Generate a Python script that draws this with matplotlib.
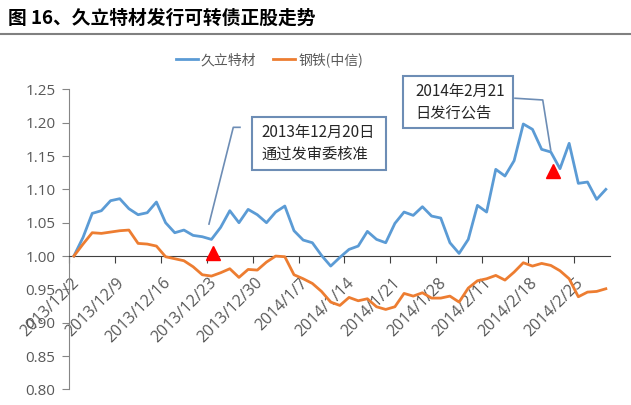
import matplotlib
matplotlib.use("Agg")
import matplotlib.pyplot as plt
import matplotlib.transforms as mtransforms
import numpy as np

plt.rcParams['font.family'] = ['Noto Sans CJK SC', 'DejaVu Sans']

# 交易日序列（2013/12/2 - 2014/2/28），每5个交易日一个标签
tick_labels = ['2013/12/2', '2013/12/9', '2013/12/16', '2013/12/23', '2013/12/30',
               '2014/1/7', '2014/1/14', '2014/1/21', '2014/1/28', '2014/2/11',
               '2014/2/18', '2014/2/25']

jiuli = [1.000, 1.028, 1.064, 1.068, 1.083, 1.086, 1.071, 1.062, 1.065, 1.081,
         1.050, 1.035, 1.039, 1.031, 1.029, 1.025, 1.043, 1.068, 1.050, 1.070,
         1.062, 1.050, 1.066, 1.075, 1.038, 1.024, 1.020, 1.001, 0.985, 0.998,
         1.010, 1.015, 1.037, 1.025, 1.020, 1.049, 1.066, 1.061, 1.074, 1.060,
         1.057, 1.020, 1.004, 1.025, 1.076, 1.066, 1.130, 1.120, 1.143, 1.198,
         1.190, 1.160, 1.156, 1.131, 1.169, 1.109, 1.111, 1.085, 1.100]

steel = [1.000, 1.018, 1.035, 1.034, 1.036, 1.038, 1.039, 1.019, 1.018, 1.015,
         0.999, 0.996, 0.993, 0.984, 0.972, 0.970, 0.975, 0.981, 0.968, 0.980,
         0.979, 0.991, 1.000, 0.999, 0.972, 0.966, 0.959, 0.947, 0.931, 0.926,
         0.938, 0.933, 0.936, 0.924, 0.920, 0.924, 0.944, 0.940, 0.945, 0.937,
         0.937, 0.940, 0.931, 0.952, 0.963, 0.966, 0.971, 0.964, 0.976, 0.990,
         0.985, 0.989, 0.986, 0.978, 0.966, 0.939, 0.946, 0.947, 0.951]

# 事件标记（发审委核准、发行公告）
event_x = [15.2, 52.2]
event_y = [1.004, 1.1275]

blue = '#5B9BD5'
orange = '#ED7D31'
gray = '#595959'
box_edge = '#6D8DB5'

fig = plt.figure(figsize=(6.31, 4.05), dpi=100)
ax = fig.add_axes([0.1098, 0.0383, 0.8576, 0.7412])

x = np.arange(len(jiuli))
ax.plot(x, jiuli, color=blue, lw=2.0, label='久立特材', zorder=3)
ax.plot(x, steel, color=orange, lw=2.0, label='钢铁(中信)', zorder=3)
ax.plot(event_x, event_y, '^', color='#FF0000', ms=10, zorder=4, clip_on=False)

ax.set_xlim(-0.5, len(jiuli) - 0.5)
ax.set_ylim(0.80, 1.25)
ax.set_yticks(np.arange(0.80, 1.2501, 0.05))
ax.set_yticklabels(['%.2f' % v for v in np.arange(0.80, 1.2501, 0.05)])

for s in ['top', 'right']:
    ax.spines[s].set_visible(False)
ax.spines['left'].set_color('#868686')
ax.spines['bottom'].set_color('#404040')
ax.spines['bottom'].set_position(('data', 1.0))

# 类别轴：刻度线在类别边界，标签放在类别中心下方
label_pos = np.arange(0, 5 * len(tick_labels), 5)
ax.set_xticks(label_pos - 0.5)
ax.set_xticklabels([])
ax.tick_params(axis='x', length=5, color='#404040', direction='out')
shift = mtransforms.ScaledTranslation(-3 / 100, -19 / 100, fig.dpi_scale_trans)
for p, lab in zip(label_pos, tick_labels):
    ax.text(p, 1.0, lab, transform=ax.transData + shift, rotation=45,
            ha='right', va='top', rotation_mode='anchor', fontsize=11.5,
            color=gray, family=['Open Sans', 'DejaVu Sans'], zorder=2)

ax.tick_params(axis='y', length=5, color='#868686', pad=5, labelsize=11, labelcolor=gray)
for t in ax.get_yticklabels():
    t.set_family(['Open Sans', 'DejaVu Sans'])

# 注释框与引线
ax.plot([14.73, 17.38, 18.11], [1.048, 1.193, 1.193], color=box_edge, lw=1.2, clip_on=False)
ax.add_patch(plt.Rectangle((19.39, 1.129), 34.03 - 19.39, 1.209 - 1.129, fill=True,
                           facecolor='white', edgecolor=box_edge, lw=1.5, clip_on=False, zorder=5))
ax.text(20.4, 1.169, '2013年12月20日\n通过发审委核准', fontsize=11, color='#262626',
        ha='left', va='center', linespacing=1.35, zorder=6)

ax.plot([48.10, 51.12, 51.99], [1.2366, 1.234, 1.159], color=box_edge, lw=1.2, clip_on=False)
ax.add_patch(plt.Rectangle((35.92, 1.1916), 47.92 - 35.92, 1.27 - 1.1916, fill=True,
                           facecolor='white', edgecolor=box_edge, lw=1.5, clip_on=False, zorder=5))
ax.text(37.2, 1.2308, '2014年2月21\n日发行公告', fontsize=11, color='#262626',
        ha='left', va='center', linespacing=1.35, zorder=6, clip_on=False)

fig.legend(loc='center', bbox_to_anchor=(0.427, 0.852), ncol=2, frameon=False,
           fontsize=10, labelcolor=gray, handlelength=1.6, handletextpad=0.2,
           columnspacing=1.2)

# 标题与分隔线
fig.text(0.013, 0.955, '图 16、久立特材发行可转债正股走势', fontsize=13.5, fontweight='bold',
         ha='left', va='center', color='black')
fig.add_artist(plt.Line2D([0, 1], [1 - 34 / 405, 1 - 34 / 405], color='#808080', lw=1.5))

fig.savefig('out.png', dpi=100)
